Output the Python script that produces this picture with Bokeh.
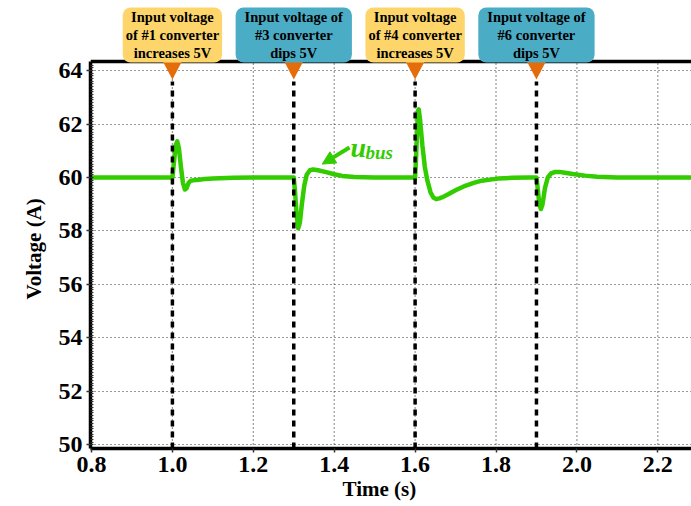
from bokeh.plotting import figure
from bokeh.models import (Range1d, Label, PolyAnnotation, Arrow, NormalHead, Title,
                          FixedTicker, NumeralTickFormatter, Span)
from bokeh.embed import file_html
from bokeh.resources import INLINE

# ---------------- data ----------------
time_s = [0.8, 1.0, 1.004, 1.008, 1.012, 1.016, 1.021, 1.026, 1.031, 1.035, 1.040, 1.045,
          1.06, 1.08, 1.1, 1.15, 1.2,
          1.3, 1.303, 1.307, 1.311, 1.315, 1.320, 1.326, 1.332, 1.340, 1.348, 1.36, 1.38,
          1.40, 1.42, 1.45, 1.5,
          1.6, 1.602, 1.605, 1.607, 1.609, 1.612, 1.618, 1.624, 1.630, 1.638, 1.645, 1.652,
          1.66, 1.67, 1.683, 1.70, 1.724, 1.745, 1.765, 1.79, 1.806, 1.84, 1.88,
          1.9, 1.903, 1.907, 1.911, 1.915, 1.921, 1.928, 1.936, 1.947, 1.957, 1.97, 1.99,
          2.02, 2.05, 2.1, 2.29]
voltage = [60.0, 60.0, 60.6, 61.2, 61.35, 61.1, 60.4, 59.8, 59.55, 59.6, 59.8, 59.88,
           59.91, 59.94, 59.96, 59.99, 60.0,
           60.0, 59.5, 58.6, 58.1, 58.3, 59.0, 59.7, 60.1, 60.27, 60.3, 60.27, 60.2,
           60.12, 60.06, 60.02, 60.0,
           60.0, 60.6, 61.8, 62.5, 62.55, 62.2, 61.2, 60.4, 59.9, 59.45, 59.25, 59.19,
           59.22, 59.28, 59.38, 59.52, 59.69, 59.8, 59.88, 59.93, 59.96, 59.99, 60.0,
           60.0, 59.6, 59.0, 58.82, 59.0, 59.6, 60.0, 60.15, 60.21, 60.21, 60.18, 60.13,
           60.07, 60.03, 60.0, 60.0]

event_times = [1.0, 1.3, 1.6, 1.9]
event_texts = ["Input voltage\nof #1 converter\nincreases 5V",
               "Input voltage of\n#3 converter\ndips 5V",
               "Input voltage\nof #4 converter\nincreases 5V",
               "Input voltage of\n#6 converter\ndips 5V"]
event_kinds = ["increase", "dip", "increase", "dip"]

x_ticks = [0.8, 1.0, 1.2, 1.4, 1.6, 1.8, 2.0, 2.2]
y_ticks = [50, 52, 54, 56, 58, 60, 62, 64]
y_minor_ticks = [round(50 + 0.1 * i, 1) for i in range(0, 144)]

x_title = "Time (s)"
y_title = "Voltage (A)"
series_name = ("u", "bus")

# ---------------- style / geometry ----------------
FONT = "Liberation Serif"
GREEN = "#33CC00"
BOX_COLORS = {"increase": "#FDD56A", "dip": "#4BACC6"}
BOX_PAD = {"increase": (3, 2), "dip": (9, 2)}
ORANGE = "#E46C0A"

PX_X = 404.5   # px per second
PX_Y = 26.73   # px per volt
X0 = 0.7975
X1 = X0 + 601 / PX_X
Y0 = 49.86
Y_TOP = 64.34                 # top of the plotting box
Y1 = Y_TOP + 61 / PX_Y        # room above the box for the callouts

p = figure(width=691, height=506, output_backend="svg", toolbar_location=None,
           x_range=Range1d(X0, X1), y_range=Range1d(Y0, Y1),
           min_border_left=90, min_border_right=0, min_border_top=0, min_border_bottom=58,
           background_fill_color="white", border_fill_color="white")
p.outline_line_color = None

# axes
xa = p.xaxis[0]
xa.ticker = FixedTicker(ticks=x_ticks, minor_ticks=[])
xa.formatter = NumeralTickFormatter(format="0.0")
ya = p.yaxis[0]
ya.ticker = FixedTicker(ticks=y_ticks, minor_ticks=y_minor_ticks)
ya.formatter = NumeralTickFormatter(format="0")
ya.bounds = (Y0, Y_TOP)
for ax in (xa, ya):
    ax.axis_line_width = 3.5
    ax.axis_line_color = "black"
    ax.major_tick_out = 4
    ax.major_tick_in = 0
    ax.major_tick_line_width = 1.5
    ax.major_tick_line_color = "#333333"
    ax.major_label_text_font = FONT
    ax.major_label_text_font_style = "bold"
    ax.major_label_text_font_size = "24px"
    ax.major_label_text_color = "black"
xa.minor_tick_in = 0
xa.minor_tick_out = 0
xa.major_label_standoff = 4
ya.minor_tick_in = 3
ya.minor_tick_out = 0
ya.minor_tick_line_width = 1
ya.minor_tick_line_color = "#333333"
ya.major_label_standoff = 4

# axis titles as side titles (offset from their start)
p.add_layout(Title(text=x_title, align="left", offset=252, standoff=0, text_font=FONT,
                   text_font_style="bold", text_font_size="21px", text_color="black"), "below")
p.add_layout(Title(text=y_title, align="left", offset=149, standoff=19, text_font=FONT,
                   text_font_style="bold", text_font_size="21px", text_color="black"), "left")

# top edge of the plotting box
p.add_layout(Span(location=Y_TOP, dimension="width", line_color="black", line_width=3.5))

# grid
p.xgrid.visible = False
p.ygrid.ticker = FixedTicker(ticks=y_ticks)
p.ygrid.grid_line_color = "#333333"
p.ygrid.grid_line_dash = "1 3"
p.ygrid.grid_line_width = 1.2
p.segment(x0=x_ticks, y0=[Y0] * len(x_ticks), x1=x_ticks, y1=[Y_TOP] * len(x_ticks),
          line_color="#333333", line_dash="1 3", line_width=1.2)

# series
p.line(time_s, voltage, line_width=4.5, color=GREEN, line_join="round", line_cap="round")

# event lines
tip_y = Y_TOP - 18 / PX_Y
p.segment(x0=event_times, y0=[Y0] * len(event_times), x1=event_times,
          y1=[tip_y - 2 / PX_Y] * len(event_times),
          line_color="black", line_width=3.5, line_dash="6 5")

# callouts
half_w = 10 / PX_X
tri_top = Y_TOP + 1 / PX_Y
box_y = Y1 - 34.5 / PX_Y
for t, txt, kind in zip(event_times, event_texts, event_kinds):
    p.add_layout(PolyAnnotation(xs=[t - half_w, t + half_w, t], ys=[tri_top, tri_top, tip_y],
                                fill_color=ORANGE, fill_alpha=1, line_color=None))
    p.add_layout(Label(x=t, y=box_y, text=txt, text_align="center", text_baseline="middle",
                       text_font=FONT, text_font_style="bold", text_font_size="14.5px",
                       text_color="black", text_line_height=1.1,
                       background_fill_color=BOX_COLORS[kind], background_fill_alpha=1,
                       border_line_color=None, border_radius=8, padding=BOX_PAD[kind]))

# u_bus label with arrow
p.add_layout(Label(x=1.4403, y=61.11, text=series_name[0], text_font=FONT, text_font_style="bold italic",
                   text_font_size="28px", text_color=GREEN, text_align="left", text_baseline="alphabetic"))
p.add_layout(Label(x=1.4774, y=60.92, text=series_name[1], text_font=FONT, text_font_style="bold italic",
                   text_font_size="19px", text_color=GREEN, text_align="left", text_baseline="alphabetic"))
p.add_layout(Arrow(end=NormalHead(size=13, fill_color=GREEN, line_color=GREEN, line_width=1),
                   x_start=1.4378, y_start=61.12, x_end=1.3703, y_end=60.50,
                   line_color=GREEN, line_width=4))

open("out.html", "w").write(file_html(p, INLINE))
